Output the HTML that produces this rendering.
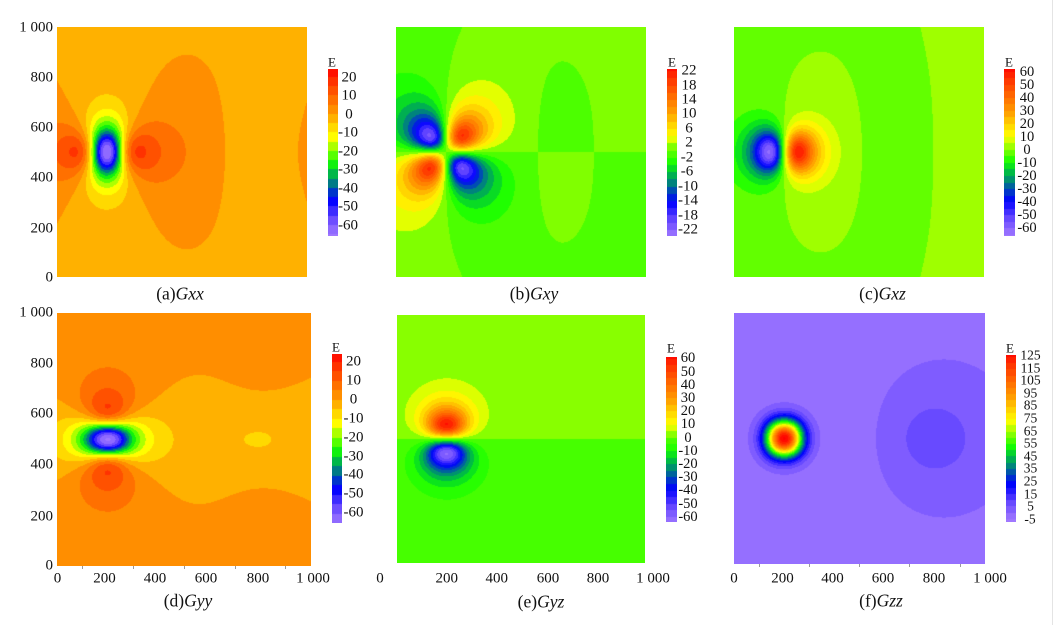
<!DOCTYPE html>
<html>
<head>
<meta charset="utf-8">
<style>
html,body{margin:0;padding:0;background:#fff;}
#root{position:relative;width:1058px;height:625px;overflow:hidden;background:#fff;font-family:"Liberation Serif","Times New Roman",serif;color:#111;}
canvas{position:absolute;display:block;}
.c{position:absolute;transform:translate(-50%,-50%);line-height:1;white-space:nowrap;font-size:15px;}
.s14{font-size:14.5px;}
.s13{font-size:13.5px;}
.E{position:absolute;transform:translate(-50%,-50%);line-height:1;font-size:13px;}
.yl{position:absolute;right:1005px;transform:translateY(-50%);line-height:1;font-size:15px;white-space:nowrap;text-align:right;}
.cap{position:absolute;transform:translate(-50%,-50%);line-height:1;font-size:17.5px;white-space:nowrap;}
.cap i{font-style:italic;}
.tk{position:absolute;width:1px;height:3px;background:#9a9a9a;}
</style>
</head>
<body>
<div id="root">

<!-- panels -->
<canvas id="pa" width="250" height="250" style="left:57px;top:27px;width:250px;height:250px;background:#ffb200"></canvas>
<canvas id="pb" width="250" height="250" style="left:396px;top:27px;width:250px;height:250px;background:#80ff00"></canvas>
<canvas id="pc" width="250" height="250" style="left:734px;top:27px;width:250px;height:250px;background:#66ff00"></canvas>
<canvas id="pd" width="254" height="253" style="left:57px;top:313px;width:254px;height:253px;background:#ff8e00"></canvas>
<canvas id="pe" width="248" height="248" style="left:397px;top:315px;width:248px;height:248px;background:#66ff00"></canvas>
<canvas id="pf" width="251" height="251" style="left:734px;top:313px;width:251px;height:251px;background:#956fff"></canvas>

<!-- colorbars -->
<canvas id="ca" width="10" height="167" style="left:328px;top:69px;width:10px;height:167px;"></canvas>
<canvas id="cb" width="10" height="167" style="left:667px;top:69px;width:10px;height:167px;"></canvas>
<canvas id="cc" width="11" height="167" style="left:1004px;top:69px;width:11px;height:167px;"></canvas>
<canvas id="cd" width="10" height="169" style="left:332px;top:354px;width:10px;height:169px;"></canvas>
<canvas id="ce" width="11" height="165" style="left:666px;top:357px;width:11px;height:165px;"></canvas>
<canvas id="cf" width="10" height="167" style="left:1006px;top:355px;width:10px;height:167px;"></canvas>

<!-- E labels -->
<div class="E" style="left:332px;top:62px;">E</div>
<div class="E" style="left:672px;top:62px;">E</div>
<div class="E" style="left:1009px;top:62px;">E</div>
<div class="E" style="left:336px;top:347px;">E</div>
<div class="E" style="left:671px;top:348px;">E</div>
<div class="E" style="left:1010px;top:348px;">E</div>

<!-- colorbar a labels -->
<div class="c" style="left:349px;top:77.7px;">20</div>
<div class="c" style="left:349px;top:96.2px;">10</div>
<div class="c" style="left:349px;top:114.7px;">0</div>
<div class="c" style="left:348px;top:133.2px;">-10</div>
<div class="c" style="left:348px;top:151.7px;">-20</div>
<div class="c" style="left:348px;top:170.2px;">-30</div>
<div class="c" style="left:348px;top:188.7px;">-40</div>
<div class="c" style="left:348px;top:207.2px;">-50</div>
<div class="c" style="left:348px;top:225.7px;">-60</div>

<!-- colorbar b labels -->
<div class="c" style="left:689px;top:71px;">22</div>
<div class="c" style="left:689px;top:85.5px;">18</div>
<div class="c" style="left:689px;top:99.9px;">14</div>
<div class="c" style="left:689px;top:114.4px;">10</div>
<div class="c" style="left:689px;top:128.8px;">6</div>
<div class="c" style="left:689px;top:143.3px;">2</div>
<div class="c" style="left:687px;top:157.7px;">-2</div>
<div class="c" style="left:687px;top:172.2px;">-6</div>
<div class="c" style="left:688px;top:186.6px;">-10</div>
<div class="c" style="left:688px;top:201px;">-14</div>
<div class="c" style="left:688px;top:215.5px;">-18</div>
<div class="c" style="left:688px;top:230px;">-22</div>

<!-- colorbar c labels -->
<div class="c s14" style="left:1027px;top:71.7px;">60</div>
<div class="c s14" style="left:1027px;top:84.7px;">50</div>
<div class="c s14" style="left:1027px;top:97.7px;">40</div>
<div class="c s14" style="left:1027px;top:110.7px;">30</div>
<div class="c s14" style="left:1027px;top:123.7px;">20</div>
<div class="c s14" style="left:1027px;top:136.7px;">10</div>
<div class="c s14" style="left:1027px;top:149.7px;">0</div>
<div class="c s14" style="left:1027px;top:162.7px;">-10</div>
<div class="c s14" style="left:1027px;top:175.7px;">-20</div>
<div class="c s14" style="left:1027px;top:188.7px;">-30</div>
<div class="c s14" style="left:1027px;top:201.7px;">-40</div>
<div class="c s14" style="left:1027px;top:214.7px;">-50</div>
<div class="c s14" style="left:1027px;top:227.7px;">-60</div>

<!-- colorbar d labels -->
<div class="c" style="left:353.5px;top:362px;">20</div>
<div class="c" style="left:353.5px;top:380.9px;">10</div>
<div class="c" style="left:353.5px;top:399.8px;">0</div>
<div class="c" style="left:353.5px;top:418.7px;">-10</div>
<div class="c" style="left:353.5px;top:437.6px;">-20</div>
<div class="c" style="left:353.5px;top:456.5px;">-30</div>
<div class="c" style="left:353.5px;top:475.4px;">-40</div>
<div class="c" style="left:353.5px;top:494.3px;">-50</div>
<div class="c" style="left:353.5px;top:513.2px;">-60</div>

<!-- colorbar e labels -->
<div class="c s14" style="left:688px;top:358.3px;">60</div>
<div class="c s14" style="left:688px;top:371.5px;">50</div>
<div class="c s14" style="left:688px;top:384.7px;">40</div>
<div class="c s14" style="left:688px;top:397.9px;">30</div>
<div class="c s14" style="left:688px;top:411.1px;">20</div>
<div class="c s14" style="left:688px;top:424.3px;">10</div>
<div class="c s14" style="left:688px;top:437.5px;">0</div>
<div class="c s14" style="left:688px;top:450.7px;">-10</div>
<div class="c s14" style="left:688px;top:463.9px;">-20</div>
<div class="c s14" style="left:688px;top:477.1px;">-30</div>
<div class="c s14" style="left:688px;top:490.3px;">-40</div>
<div class="c s14" style="left:688px;top:503.5px;">-50</div>
<div class="c s14" style="left:688px;top:516.7px;">-60</div>

<!-- colorbar f labels -->
<div class="c s13" style="left:1030.5px;top:355px;">125</div>
<div class="c s13" style="left:1030.5px;top:367.6px;">115</div>
<div class="c s13" style="left:1030.5px;top:380.2px;">105</div>
<div class="c s13" style="left:1030.5px;top:392.8px;">95</div>
<div class="c s13" style="left:1030.5px;top:405.4px;">85</div>
<div class="c s13" style="left:1030.5px;top:418px;">75</div>
<div class="c s13" style="left:1030.5px;top:430.6px;">65</div>
<div class="c s13" style="left:1030.5px;top:443.2px;">55</div>
<div class="c s13" style="left:1030.5px;top:455.8px;">45</div>
<div class="c s13" style="left:1030.5px;top:468.4px;">35</div>
<div class="c s13" style="left:1030.5px;top:481px;">25</div>
<div class="c s13" style="left:1030.5px;top:493.6px;">15</div>
<div class="c s13" style="left:1030.5px;top:506.2px;">5</div>
<div class="c s13" style="left:1030px;top:518.8px;">-5</div>

<!-- y-axis labels top row -->
<div class="yl" style="top:27.5px;">1 000</div>
<div class="yl" style="top:77.5px;">800</div>
<div class="yl" style="top:127.7px;">600</div>
<div class="yl" style="top:178px;">400</div>
<div class="yl" style="top:228.5px;">200</div>
<div class="yl" style="top:278px;">0</div>

<!-- y-axis labels bottom row -->
<div class="yl" style="top:313px;">1 000</div>
<div class="yl" style="top:363.5px;">800</div>
<div class="yl" style="top:414.3px;">600</div>
<div class="yl" style="top:465px;">400</div>
<div class="yl" style="top:517px;">200</div>
<div class="yl" style="top:565.5px;">0</div>

<!-- x-axis labels d -->
<div class="c" style="left:57.5px;top:578.5px;">0</div>
<div class="c" style="left:104.5px;top:578.5px;">200</div>
<div class="c" style="left:155px;top:578.5px;">400</div>
<div class="c" style="left:206px;top:578.5px;">600</div>
<div class="c" style="left:258px;top:578.5px;">800</div>
<div class="c" style="left:313px;top:578.5px;">1 000</div>

<!-- x-axis labels e -->
<div class="c" style="left:380px;top:579px;">0</div>
<div class="c" style="left:446.7px;top:579px;">200</div>
<div class="c" style="left:496.7px;top:579px;">400</div>
<div class="c" style="left:548px;top:579px;">600</div>
<div class="c" style="left:598px;top:579px;">800</div>
<div class="c" style="left:653px;top:579px;">1 000</div>

<!-- x-axis labels f -->
<div class="c" style="left:734px;top:578.5px;">0</div>
<div class="c" style="left:782.5px;top:578.5px;">200</div>
<div class="c" style="left:832.5px;top:578.5px;">400</div>
<div class="c" style="left:883px;top:578.5px;">600</div>
<div class="c" style="left:934px;top:578.5px;">800</div>
<div class="c" style="left:990px;top:578.5px;">1 000</div>

<!-- minor ticks -->
<div class="tk" style="left:82px;top:566px;"></div>
<div class="tk" style="left:133px;top:566px;"></div>
<div class="tk" style="left:184px;top:566px;"></div>
<div class="tk" style="left:235px;top:566px;"></div>
<div class="tk" style="left:285px;top:566px;"></div>
<div class="tk" style="left:759px;top:564px;"></div>
<div class="tk" style="left:809px;top:564px;"></div>
<div class="tk" style="left:859px;top:564px;"></div>
<div class="tk" style="left:909px;top:564px;"></div>
<div class="tk" style="left:960px;top:564px;"></div>

<!-- captions -->
<div class="cap" style="left:180px;top:294px;">(a)<i>Gxx</i></div>
<div class="cap" style="left:534px;top:294px;">(b)<i>Gxy</i></div>
<div class="cap" style="left:882.5px;top:294px;">(c)<i>Gxz</i></div>
<div class="cap" style="left:188px;top:600.5px;">(d)<i>Gyy</i></div>
<div class="cap" style="left:541px;top:601.5px;">(e)<i>Gyz</i></div>
<div class="cap" style="left:881px;top:600.5px;">(f)<i>Gzz</i></div>

<div style="position:absolute;left:1052px;top:0;width:1px;height:625px;background:#e4e4e4;"></div>

</div>
<script>
(function(){
var P=[[0,160,120,255],[0.10,100,70,255],[0.20,0,0,255],[0.26,0,64,192],[0.31,0,128,128],[0.37,0,192,64],[0.43,20,255,0],[0.50,128,255,0],[0.58,255,255,0],[0.65,255,210,0],[0.72,255,158,0],[0.80,255,115,0],[0.90,255,60,0],[1,255,0,0]];
function pal(t){
  if(t<=0)return [P[0][1],P[0][2],P[0][3]];
  var n=P.length-1;
  if(t>=1)return [P[n][1],P[n][2],P[n][3]];
  for(var i=1;i<P.length;i++){
    if(t<=P[i][0]){var a=P[i-1],b=P[i],f=(t-a[0])/(b[0]-a[0]);
      return [Math.round(a[1]+(b[1]-a[1])*f),Math.round(a[2]+(b[2]-a[2])*f),Math.round(a[3]+(b[3]-a[3])*f)];}
  }
  return [255,0,0];
}
function bandColor(v,c){var k=Math.floor(v/c.step);if(c.ov&&c.ov[k])return c.ov[k];var m=(k+0.5)*c.step;return pal((m-c.pmin)/(c.pmax-c.pmin));}
// sources
var S=[];
var offs=[-40,-24,-8,8,24,40],deps=[75,100,125];
for(var i=0;i<offs.length;i++)for(var j=0;j<offs.length;j++)for(var q=0;q<deps.length;q++)S.push([200+offs[i],500+offs[j],deps[q],1]);
var g=0;
for(var s=0;s<S.length;s++){var dx=200-S[s][0],dy=500-S[s][1],dz=S[s][2],r2=dx*dx+dy*dy+dz*dz;g+=(2*dz*dz-dx*dx-dy*dy)/(r2*r2*Math.sqrt(r2));}
var k1=131/g;for(s=0;s<S.length;s++)S[s][3]=k1;
S.push([800,500,255,4.9*255*255*255]);
function T(x,y){
  var xx=0,yy=0,zz=0,xy=0,xz=0,yz=0;
  for(var s=0;s<S.length;s++){
    var src=S[s];var dx=x-src[0],dy=y-src[1],dz=src[2];
    var r2=dx*dx+dy*dy+dz*dz;var k=src[3]/(r2*r2*Math.sqrt(r2));
    xx+=k*(2*dx*dx-dy*dy-dz*dz);yy+=k*(2*dy*dy-dx*dx-dz*dz);zz+=k*(2*dz*dz-dx*dx-dy*dy);
    xy+=3*k*dx*dy;xz+=3*k*dx*dz;yz+=3*k*dy*dz;
  }
  return {xx:xx,yy:yy,zz:zz,xy:xy,xz:xz,yz:yz};
}
var cfg=[
 {id:'pa',cb:'ca',comp:'xx',pmin:-65,pmax:25,step:5,vt:24.3,vb:-66},
 {id:'pb',cb:'cb',comp:'xy',pmin:-24,pmax:24,step:2,vt:22.6,vb:-23.7,ov:{'0':[128,255,0],'-1':[76,255,0]}},
 {id:'pc',cb:'cc',comp:'xz',pmin:-65,pmax:65,step:5,vt:62,vb:-66},
 {id:'pd',cb:'cd',comp:'yy',pmin:-65,pmax:25,step:5,vt:24.2,vb:-65},
 {id:'pe',cb:'ce',comp:'yz',pmin:-65,pmax:65,step:5,vt:61.2,vb:-63.8,ov:{'0':[136,255,0],'-1':[70,255,0]}},
 {id:'pf',cb:'cf',comp:'zz',pmin:-5,pmax:130,step:5,vt:126.5,vb:-7.6}];
for(var ci=0;ci<cfg.length;ci++){
  var c=cfg[ci];
  var cv=document.getElementById(c.id);var W=cv.width,H=cv.height;var ctx=cv.getContext('2d');
  var im=ctx.createImageData(W,H);var d=im.data;
  for(var py=0;py<H;py++){
    var y=1000-(py+0.5)/H*1000;
    for(var px=0;px<W;px++){
      var x=(px+0.5)/W*1000;
      var v=T(x,y)[c.comp];var col=bandColor(v,c);var o=(py*W+px)*4;
      d[o]=col[0];d[o+1]=col[1];d[o+2]=col[2];d[o+3]=255;
    }
  }
  ctx.putImageData(im,0,0);
  var cb=document.getElementById(c.cb);var cw=cb.width,ch=cb.height;var cx=cb.getContext('2d');
  for(var yy=0;yy<ch;yy++){
    var vv=c.vt-(yy+0.5)/ch*(c.vt-c.vb);var cc=bandColor(vv,c);
    cx.fillStyle='rgb('+cc[0]+','+cc[1]+','+cc[2]+')';cx.fillRect(0,yy,cw,1);
  }
}
})();
</script>
</body>
</html>
